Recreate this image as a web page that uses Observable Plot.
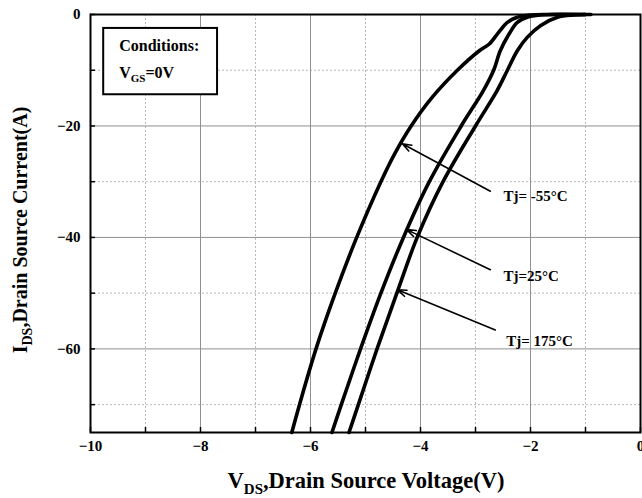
<!DOCTYPE html>
<html><head><meta charset="utf-8">
<script src="https://cdn.jsdelivr.net/npm/d3@7"></script>
<script src="https://cdn.jsdelivr.net/npm/@observablehq/plot@0.6"></script>
<style>
body{margin:0;background:#fff}
svg{font-family:"Liberation Serif","Times New Roman",serif}
</style>
</head><body><div id="chart"></div>
<script>
// Series names
const series = ["Tj= -55°C", "Tj=25°C", "Tj= 175°C"];
// Curve values (VDS in V, IDS in A)
const vdsM55 = [-6.34,-6.20,-5.90,-5.55,-5.16,-4.72,-4.47,-4.17,-3.80,-3.33,-2.93,-2.75,-2.58,-2.42,-2.24,-2.0,-1.7,-1.0];
const idsM55 = [-75,-70,-60,-50,-40,-30,-25,-20,-15,-10,-6.5,-5.3,-3.2,-1.4,-0.5,-0.1,0,0];
const vds25 = [-5.61,-5.44,-5.09,-4.72,-4.31,-3.84,-3.26,-2.86,-2.67,-2.55,-2.39,-2.24,-2.06,-1.82,-1.5,-1.0];
const ids25 = [-75,-70,-60,-50,-40,-30,-20,-13.7,-10,-6.5,-3.5,-1.4,-0.5,-0.1,0,0];
const vds175 = [-5.30,-5.13,-4.79,-4.43,-4.06,-3.59,-3.00,-2.61,-2.42,-2.24,-2.06,-1.82,-1.51,-1.2,-0.95,-0.9];
const ids175 = [-75,-70,-60,-50,-40,-30,-20,-13.7,-10,-6.5,-4.1,-2.0,-0.5,-0.1,0,0];
// Axis ticks
const xMajor = [-10,-8,-6,-4,-2,0];
const xMinor = [-9,-7,-5,-3,-1];
const yMajor = [0,-20,-40,-60];
const yMinor = [-10,-30,-50,-70];
// Annotation arrows (from label to curve) and label anchors
const arrowFromX = [-2.73,-2.73,-2.64];
const arrowFromY = [-31.7,-45.8,-56.6];
const arrowToX = [-4.33,-4.25,-4.42];
const arrowToY = [-23.2,-38.6,-49.4];
const labelX = [-2.49,-2.49,-2.44];
const labelY = [-32.6,-47.0,-58.7];

const curves = [[vdsM55,idsM55],[vds25,ids25],[vds175,ids175]];
const lineData = curves.flatMap(([xs,ys],i)=>xs.map((x,j)=>({x, y: ys[j], s: series[i]})));
const arrows = series.map((s,i)=>({x1:arrowFromX[i], y1:arrowFromY[i], x2:arrowToX[i], y2:arrowToY[i]}));
const labels = series.map((s,i)=>({x:labelX[i], y:labelY[i], t:s}));

const chart = Plot.plot({
  width: 642, height: 498,
  marginLeft: 90, marginRight: 2, marginTop: 14, marginBottom: 66,
  style: {fontFamily: '"Liberation Serif","Times New Roman",serif', fontSize: "15px", fontWeight: "bold", color: "black", background: "white"},
  x: {domain: [-10, 0]},
  y: {domain: [-75, 0]},
  marks: [
    Plot.ruleX(xMinor, {stroke: "#b8b8b8", strokeDasharray: "2,2", strokeWidth: 1}),
    Plot.ruleY(yMinor.filter(v=>v>-75), {stroke: "#b8b8b8", strokeDasharray: "2,2", strokeWidth: 1}),
    Plot.ruleX(xMajor.filter(v=>v>-10 && v<0), {stroke: "#909090", strokeWidth: 1}),
    Plot.ruleY(yMajor.filter(v=>v<0), {stroke: "#909090", strokeWidth: 1}),
    Plot.line(lineData, {x: "x", y: "y", z: "s", stroke: "black", strokeWidth: 3.6, curve: "catmull-rom"}),
    Plot.arrow(arrows, {x1: "x1", y1: "y1", x2: "x2", y2: "y2", stroke: "black", strokeWidth: 1.6, headLength: 9, headAngle: 40}),
    Plot.text(labels, {x: "x", y: "y", text: "t", textAnchor: "start", fill: "black", fontSize: 15}),
    Plot.frame({stroke: "black", strokeWidth: 2}),
    Plot.axisX({ticks: [...xMajor, ...xMinor], tickSize: -5, text: null, stroke: "black", strokeWidth: 1.5}),
    Plot.axisX({ticks: xMajor, tickSize: 0, tickPadding: 8, label: null, fill: "black"}),
    Plot.axisY({ticks: [...yMajor, ...yMinor], tickSize: -5, text: null, stroke: "black", strokeWidth: 1.5}),
    Plot.axisY({ticks: yMajor, tickSize: 0, tickPadding: 10, label: null, fill: "black"})
  ]
});

const svg = d3.select(chart);
const xs = chart.scale("x"), ys = chart.scale("y");
// Conditions box
const bx1 = xs.apply(-9.76), bx2 = xs.apply(-7.69), by1 = ys.apply(-2.5), by2 = ys.apply(-14.4);
const g = svg.append("g").attr("text-anchor", "start");
g.append("rect").attr("x", bx1).attr("y", by1).attr("width", bx2 - bx1).attr("height", by2 - by1)
  .attr("fill", "white").attr("stroke", "black").attr("stroke-width", 2);
g.append("text").attr("x", bx1 + 16).attr("y", by1 + 23).attr("font-size", 16).attr("font-weight", "bold").text("Conditions:");
const t2 = g.append("text").attr("x", bx1 + 16).attr("y", by1 + 50).attr("font-size", 16).attr("font-weight", "bold");
t2.append("tspan").text("V");
t2.append("tspan").attr("font-size", 11).attr("dy", 4).text("GS");
t2.append("tspan").attr("dy", -4).text("=0V");

// Axis titles
const xt = svg.append("text").attr("x", 366).attr("y", 488).attr("text-anchor", "middle").attr("font-size", 22.5).attr("font-weight", "bold");
xt.append("tspan").text("V");
xt.append("tspan").attr("font-size", 15).attr("dy", 6).text("DS");
xt.append("tspan").attr("dy", -6).text(",Drain Source Voltage(V)");
const yt = svg.append("text").attr("transform", "translate(27,230) rotate(-90)").attr("text-anchor", "middle").attr("font-size", 20).attr("font-weight", "bold");
yt.append("tspan").text("I");
yt.append("tspan").attr("font-size", 14).attr("dy", 5).text("DS");
yt.append("tspan").attr("dy", -5).text(",Drain Source Current(A)");

document.getElementById("chart").appendChild(chart);
</script>
</body></html>
